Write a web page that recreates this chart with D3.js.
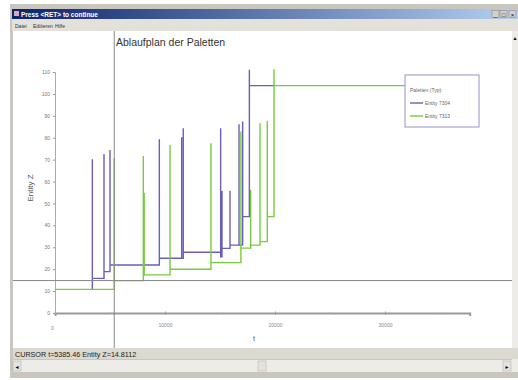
<!DOCTYPE html>
<html>
<head>
<meta charset="utf-8">
<script src="https://cdn.jsdelivr.net/npm/d3@7"></script>
<style>
  body { margin: 0; background: #fff; }
  svg { display: block; font-family: "Liberation Sans", Arial, sans-serif; }
</style>
</head>
<body>
<svg id="chart" width="518" height="380"></svg>
<script>
// --- data ---
const xTicks = [0, 10000, 20000, 30000];
const xMinorTicks = [5000, 15000, 25000, 35000];
const yTicks = [0, 10, 20, 30, 40, 50, 60, 70, 80, 90, 100, 110];

// purple: Entity 7304
const purpleStart = [3394, 10.8];
const purpleT = [3394, 4455, 5000, 9485, 11515, 11660, 15060, 15180, 15910, 16730, 17060, 17670];
const purplePeak = [70.2, 72.6, 74.4, 79.3, 80.2, 84.3, 84.3, 55.7, 55.8, 86.2, 87.4, 111.0];
const purpleLevel = [15.8, 18.9, 21.9, 25.0, 25.0, 27.7, 25.7, 29.5, 31.0, 31.0, 44.0, 103.8];
const purpleEnd = 19910;

// green: Entity 7313
const greenStart = [0, 10.8];
const greenT = [5385, 8030, 8110, 10455, 14180, 16900, 17790, 18640, 19300, 19910];
const greenPeak = [70.8, 71.7, 54.8, 76.7, 77.5, 82.8, 56.2, 86.6, 87.7, 111.3];
const greenLevel = [14.8, 17.4, 17.4, 20.0, 23.0, 29.6, 31.0, 32.6, 44.0, 103.8];
const greenEnd = 31800;

const cursorT = 5385.46;
const cursorZ = 14.8112;

const svg = d3.select("#chart");
const defs = svg.append("defs");
const grad = defs.append("linearGradient").attr("id", "titleGrad");
grad.append("stop").attr("offset", "0%").attr("stop-color", "#0a246a");
grad.append("stop").attr("offset", "100%").attr("stop-color", "#b4d0f0");

// --- window chrome ---
const gWin = svg.append("g");
gWin.append("rect").attr("x", 10).attr("y", 4).attr("width", 508).attr("height", 374).attr("fill", "#c9c6bf");
gWin.append("rect").attr("x", 12).attr("y", 9).attr("width", 506).attr("height", 10).attr("fill", "url(#titleGrad)");
gWin.append("rect").attr("x", 14).attr("y", 11).attr("width", 5).attr("height", 5).attr("fill", "#e8a0c0");
gWin.append("text").attr("x", 21).attr("y", 17).attr("fill", "#fff").attr("font-size", 6.5).attr("font-weight", "bold")
  .text("Press <RET> to continue");
[492, 500, 509].forEach((bx, i) => {
  gWin.append("rect").attr("x", bx).attr("y", 10.5).attr("width", 7).attr("height", 7)
    .attr("fill", "#d4d0c8").attr("stroke", "#808080").attr("stroke-width", 0.5);
  gWin.append("text").attr("x", bx + 3.5).attr("y", 16.5).attr("text-anchor", "middle")
    .attr("font-size", 6).attr("fill", "#000").text(["_", "\u25a1", "\u00d7"][i]);
});
gWin.append("rect").attr("x", 12).attr("y", 19).attr("width", 506).attr("height", 12).attr("fill", "#e4e1da");
[["Datei", 15], ["Editieren", 33], ["Hilfe", 55]].forEach(([m, mx]) => {
  gWin.append("text").attr("x", mx).attr("y", 28).attr("font-size", 5).attr("fill", "#333").text(m);
});

// content area
gWin.append("rect").attr("x", 13).attr("y", 31).attr("width", 499).attr("height", 317).attr("fill", "#fff");
gWin.append("rect").attr("x", 512).attr("y", 31).attr("width", 6).attr("height", 329).attr("fill", "#eeece8");
gWin.append("text").attr("x", 515).attr("y", 40).attr("font-size", 5).attr("text-anchor", "middle").text("\u25b2");

// status bar
gWin.append("rect").attr("x", 13).attr("y", 348).attr("width", 505).attr("height", 11).attr("fill", "#dcd9d1");
gWin.append("text").attr("x", 15).attr("y", 356.5).attr("font-size", 7.2).attr("fill", "#222")
  .text("CURSOR t=" + cursorT + " Entity Z=" + cursorZ);

// horizontal scrollbar
gWin.append("rect").attr("x", 13).attr("y", 360).attr("width", 505).attr("height", 12).attr("fill", "#eeece8");
[[13, "\u25c4"], [258, ""], [503, "\u25ba"]].forEach(([bx, s]) => {
  gWin.append("rect").attr("x", bx).attr("y", 361).attr("width", 8).attr("height", 10)
    .attr("fill", "#e6e3dc").attr("stroke", "#aaa").attr("stroke-width", 0.5);
  gWin.append("text").attr("x", bx + 4).attr("y", 368.5).attr("font-size", 5).attr("text-anchor", "middle").text(s);
});

// --- plot ---
const x = d3.scaleLinear().domain([0, 37700]).range([55, 469.7]);
const y = d3.scaleLinear().domain([0, 110]).range([313, 72]);

svg.append("text").attr("x", 116).attr("y", 46).attr("font-size", 10.5).attr("fill", "#333")
  .text("Ablaufplan der Paletten");

const xAxis = svg.append("g").attr("transform", "translate(0," + y(0) + ")")
  .call(d3.axisBottom(x).tickValues(xTicks).tickSize(3).tickFormat(d3.format("d")));
xAxis.select(".domain").attr("stroke", "#999").attr("stroke-width", 2);
xAxis.selectAll(".tick line").attr("stroke", "#999").attr("y1", -1.5).attr("y2", 1.5);
xAxis.selectAll(".tick text").attr("font-size", 5).attr("fill", "#888").attr("y", 10);
xAxis.selectAll(".tick").filter(d => d === 0).select("text").attr("x", -3).attr("y", 13);
xAxis.selectAll(".minor").data(xMinorTicks).join("line").attr("class", "minor")
  .attr("x1", d => x(d)).attr("x2", d => x(d)).attr("y1", -1).attr("y2", 1).attr("stroke", "#bbb");

const yAxis = svg.append("g").attr("transform", "translate(" + x(0) + ",0)")
  .call(d3.axisLeft(y).tickValues(yTicks).tickSize(2));
yAxis.select(".domain").attr("stroke", "#aaa");
yAxis.selectAll(".tick line").attr("stroke", "#999");
yAxis.selectAll(".tick text").attr("font-size", 5).attr("fill", "#777").attr("x", -5);

svg.append("text").attr("transform", "translate(33,188) rotate(-90)").attr("text-anchor", "middle")
  .attr("font-size", 8).attr("fill", "#555").text("Entity Z");
svg.append("text").attr("x", 254).attr("y", 341).attr("text-anchor", "middle")
  .attr("font-size", 7).attr("fill", "#555").text("t");

// step lines
function buildPoints(start, ts, peaks, levels, end) {
  const pts = [start];
  ts.forEach((t, i) => {
    pts.push([t, peaks[i]]);
    pts.push([t, levels[i]]);
  });
  pts.push([end, levels[levels.length - 1]]);
  return pts;
}
const line = d3.line().x(d => x(d[0])).y(d => y(d[1])).curve(d3.curveStepAfter);

svg.append("path").datum(buildPoints(purpleStart, purpleT, purplePeak, purpleLevel, purpleEnd))
  .attr("d", line).attr("fill", "none").attr("stroke", "#6a5fb8").attr("stroke-width", 1.4);
svg.append("path").datum(buildPoints(greenStart, greenT, greenPeak, greenLevel, greenEnd))
  .attr("d", line).attr("fill", "none").attr("stroke", "#78cc3c").attr("stroke-width", 1.4);

// legend
const lg = svg.append("g").attr("transform", "translate(405,75)");
lg.append("rect").attr("width", 74).attr("height", 52).attr("fill", "#fff")
  .attr("stroke", "#9a92c4").attr("stroke-width", 1);
lg.append("text").attr("x", 5).attr("y", 17).attr("font-size", 5).attr("fill", "#666").text("Paletten (Typ):");
[["Entity 7304", "#6a5fb8", 28], ["Entity 7313", "#78cc3c", 41]].forEach(([name, c, ly]) => {
  lg.append("line").attr("x1", 5).attr("x2", 18).attr("y1", ly).attr("y2", ly).attr("stroke", c).attr("stroke-width", 1.4);
  lg.append("text").attr("x", 20).attr("y", ly + 1.8).attr("font-size", 5).attr("fill", "#666").text(name);
});

// cursor crosshair
svg.append("line").attr("x1", x(cursorT)).attr("x2", x(cursorT)).attr("y1", 31).attr("y2", 348)
  .attr("stroke", "#888").attr("stroke-width", 1);
svg.append("line").attr("x1", 13).attr("x2", 512).attr("y1", y(cursorZ)).attr("y2", y(cursorZ))
  .attr("stroke", "#888").attr("stroke-width", 1);
</script>
</body>
</html>
